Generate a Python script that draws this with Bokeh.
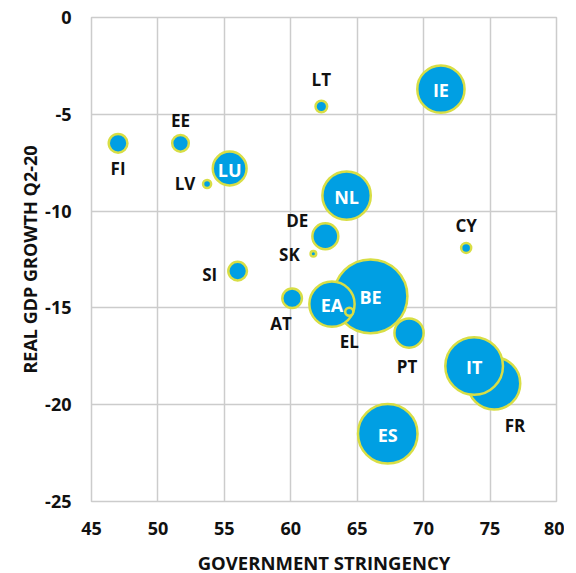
from bokeh.plotting import figure
from bokeh.models import ColumnDataSource, FixedTicker
from bokeh.core.properties import value
from bokeh.embed import file_html
from bokeh.resources import INLINE

# Data (draw order: FR before IT, BE before EA before EL)
countries = ["FI", "EE", "LV", "LU", "LT", "IE", "NL", "DE", "SK", "CY", "SI",
             "AT", "BE", "EA", "EL", "PT", "FR", "IT", "ES"]
stringency = [47.0, 51.7, 53.7, 55.4, 62.3, 71.3, 64.2, 62.6, 61.7, 73.2, 56.0,
              60.1, 66.0, 63.1, 64.4, 68.9, 75.3, 73.8, 67.3]
gdp_growth = [-6.5, -6.5, -8.6, -7.8, -4.6, -3.7, -9.2, -11.3, -12.2, -11.9, -13.1,
              -14.5, -14.4, -14.8, -15.2, -16.3, -18.9, -18.0, -21.5]
bubble_weight = [10, 8, 2, 32, 4, 62, 65, 19, 1, 3, 10,
                 11, 150, 57, 2, 24, 76, 92, 98]

x_ticks = [45, 50, 55, 60, 65, 70, 75, 80]
y_ticks = [0, -5, -10, -15, -20, -25]

inside = {"IE", "LU", "NL", "EA", "BE", "IT", "ES"}
# label offsets in screen px (dx, dy; dy positive = down)
offsets = {"FI": (0, 25), "EE": (0, -23), "LV": (-22, 0), "LT": (0, -27),
           "DE": (-28, -16), "SK": (-24, 1), "CY": (0, -22), "SI": (-28, 3),
           "AT": (-11, 25), "EL": (0, 30), "PT": (-2, 33), "FR": (21, 42)}

BLUE = "#009FE3"
RIM = "#D8DE45"
LW = 2.5
sizes = [2 * ((w * 9.2) ** 0.5 + 1.0) - LW for w in bubble_weight]

p = figure(frame_width=465, frame_height=484, x_range=(45, 80), y_range=(-25, 0),
           output_backend="svg", toolbar_location=None,
           min_border_left=91, min_border_right=8, min_border_top=17,
           min_border_bottom=50)

src = ColumnDataSource(dict(x=stringency, y=gdp_growth, s=sizes, c=countries))
p.scatter("x", "y", size="s", source=src, fill_color=BLUE, line_color=RIM,
          line_width=LW)

in_idx = [i for i, c in enumerate(countries) if c in inside]
out_idx = [i for i, c in enumerate(countries) if c not in inside]

p.text(x=[stringency[i] for i in in_idx], y=[gdp_growth[i] for i in in_idx],
       text=[countries[i] for i in in_idx], text_color="white",
       text_font=value("Open Sans"), text_font_style="bold",
       text_font_size="18px", text_align="center", text_baseline="middle",
       y_offset=1)

p.text(x=[stringency[i] for i in out_idx], y=[gdp_growth[i] for i in out_idx],
       text=[countries[i] for i in out_idx],
       x_offset=[offsets[countries[i]][0] for i in out_idx],
       y_offset=[offsets[countries[i]][1] for i in out_idx],
       text_color="#111111", text_font=value("Open Sans"),
       text_font_style="bold", text_font_size="17px", text_align="center",
       text_baseline="middle")

p.xaxis.ticker = FixedTicker(ticks=x_ticks)
p.yaxis.ticker = FixedTicker(ticks=y_ticks)
p.yaxis.major_label_overrides = {t: str(t) for t in y_ticks}
p.xaxis.major_label_overrides = {t: str(t) for t in x_ticks}
for ax in (p.xaxis, p.yaxis):
    ax.axis_line_color = None
    ax.major_tick_line_color = None
    ax.minor_tick_line_color = None
    ax.major_tick_in = 0
    ax.major_tick_out = 0
    ax.major_label_text_font = "Open Sans"
    ax.major_label_text_font_style = "bold"
    ax.major_label_text_font_size = "18px"
    ax.major_label_text_color = "#111111"
    ax.axis_label_text_font = "Open Sans"
    ax.axis_label_text_font_style = "bold"
    ax.axis_label_text_color = "#111111"
p.xaxis.axis_label = "GOVERNMENT STRINGENCY"
p.yaxis.axis_label = "REAL GDP GROWTH Q2-20"
p.xaxis.axis_label_text_font_size = "18.5px"
p.yaxis.axis_label_text_font_size = "18px"
p.xaxis.major_label_standoff = 20
p.yaxis.major_label_standoff = 20
p.xaxis.axis_label_standoff = 12
p.yaxis.axis_label_standoff = 0

p.grid.grid_line_color = "#CCCCCC"
p.grid.grid_line_width = 1.5
p.outline_line_color = "#CCCCCC"
p.outline_line_width = 1.5
p.background_fill_color = "white"
p.border_fill_color = "white"

open("out.html", "w").write(file_html(p, INLINE))
